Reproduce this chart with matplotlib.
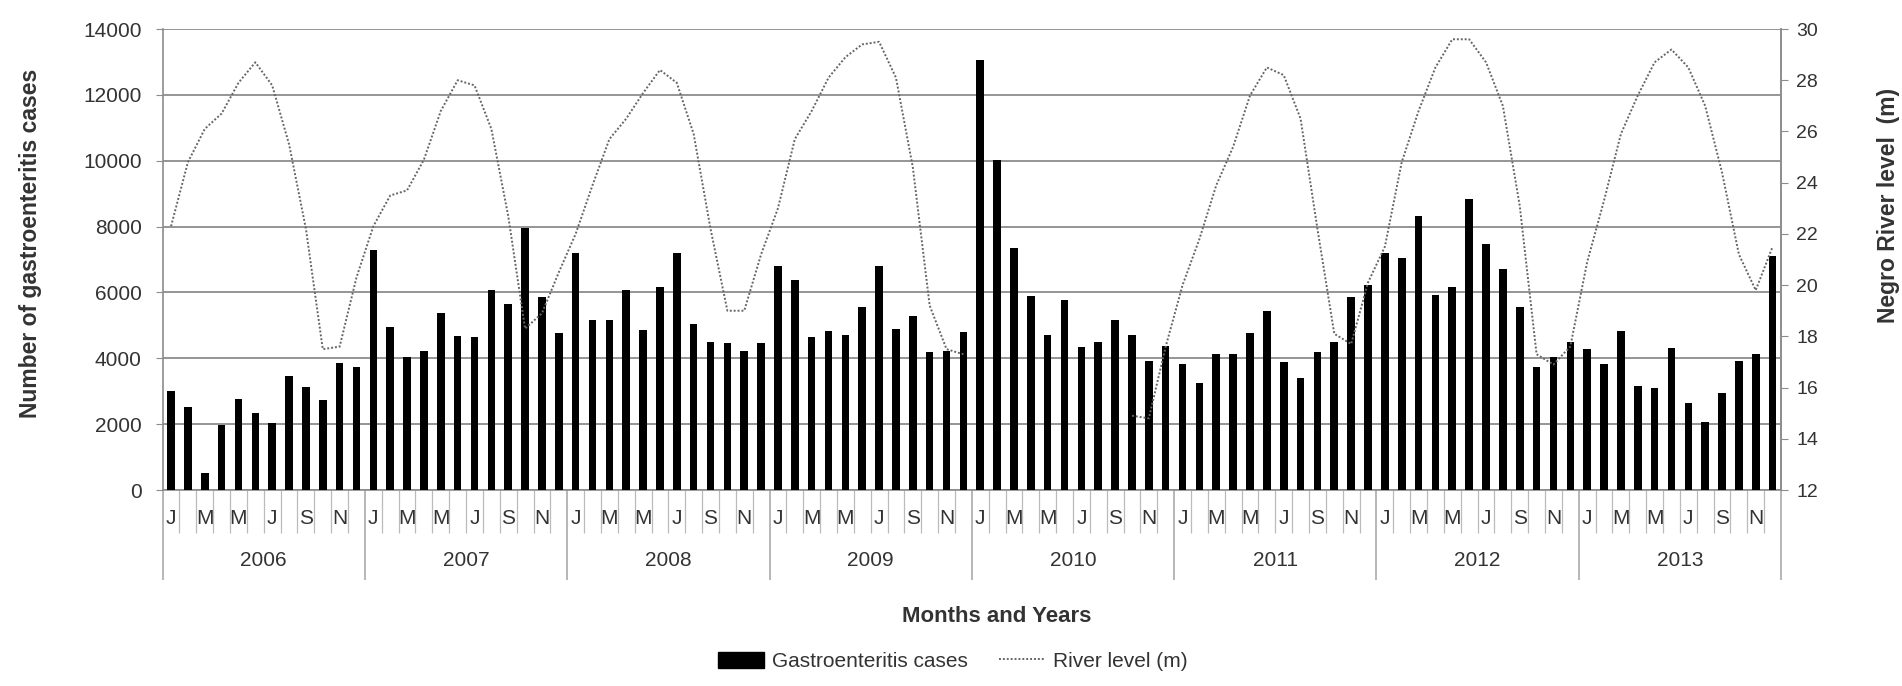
"""
Monthly gastroenteritis cases against the Negro River level, 2006-2013.
"""

import numpy as np
import matplotlib
import matplotlib.pyplot as plt
from matplotlib.lines import Line2D
from matplotlib.patches import Patch

matplotlib.use('Agg')

plt.rcParams['font.family'] = ['Liberation Sans', 'DejaVu Sans']

years = ['2006', '2007', '2008', '2009', '2010', '2011', '2012', '2013']
month_letters = ['J', '', 'M', '', 'M', '', 'J', '', 'S', '', 'N', '']

cases_2006 = [3000, 2510, 510, 1980, 2770, 2330, 2030, 3460, 3140, 2740, 3870, 3750]
cases_2007 = [7290, 4960, 4050, 4230, 5370, 4690, 4640, 6060, 5650, 7950, 5860, 4780]
cases_2008 = [7190, 5150, 5150, 6060, 4860, 6160, 7190, 5050, 4510, 4460, 4220, 4460]
cases_2009 = [6790, 6380, 4640, 4830, 4710, 5550, 6810, 4880, 5290, 4200, 4220, 4810]
cases_2010 = [13070, 10030, 7340, 5880, 4710, 5770, 4340, 4480, 5150, 4710, 3930, 4380]
cases_2011 = [3830, 3260, 4130, 4130, 4780, 5450, 3900, 3410, 4180, 4480, 5850, 6230]
cases_2012 = [7190, 7040, 8330, 5930, 6160, 8830, 7470, 6710, 5550, 3730, 4030, 4510]
cases_2013 = [4280, 3830, 4830, 3170, 3090, 4310, 2630, 2080, 2940, 3920, 4130, 7110]

nan = float('nan')
river_2006 = [22.3, 24.8, 26.1, 26.7, 27.9, 28.7, 27.8, 25.5, 22.2, 17.5, 17.6, 20.3]
river_2007 = [22.3, 23.5, 23.7, 24.9, 26.8, 28.0, 27.8, 26.1, 22.7, 18.3, 18.9, 20.5]
river_2008 = [22.0, 23.9, 25.7, 26.5, 27.5, 28.4, 27.9, 25.9, 22.2, 19.0, 19.0, 21.2]
river_2009 = [23.0, 25.7, 26.8, 28.1, 28.9, 29.4, 29.5, 28.1, 24.6, 19.2, 17.5, 17.3]
river_2010 = [nan, nan, nan, nan, nan, nan, nan, nan, nan, 14.9, 14.8, 17.6]
river_2011 = [20.0, 21.8, 23.9, 25.4, 27.4, 28.5, 28.2, 26.5, 22.2, 18.1, 17.7, 20.1]
river_2012 = [21.5, 24.8, 26.8, 28.5, 29.6, 29.6, 28.7, 27.0, 23.1, 17.3, 16.9, 17.6]
river_2013 = [20.9, 23.3, 25.9, 27.4, 28.7, 29.2, 28.5, 27.0, 24.4, 21.2, 19.8, 21.5]

cases = (cases_2006 + cases_2007 + cases_2008 + cases_2009
         + cases_2010 + cases_2011 + cases_2012 + cases_2013)
river = (river_2006 + river_2007 + river_2008 + river_2009
         + river_2010 + river_2011 + river_2012 + river_2013)

x = np.arange(len(cases))
grey = '#8c8c8c'
txt = '#333333'

fig, ax = plt.subplots(figsize=(19.02, 6.86), dpi=100)
fig.subplots_adjust(left=0.0855, right=0.9364, bottom=0.2857, top=0.9577)

# Case counts as bars on the left axis
ax.bar(x, cases, width=0.45, color='black', zorder=3)
ax.set_xlim(-0.5, len(cases) - 0.5)
ax.set_ylim(0, 14000)
ax.set_yticks(np.arange(0, 14001, 2000))
ax.yaxis.grid(True, color=grey, linewidth=1.3, zorder=0)
ax.set_axisbelow(True)
ax.tick_params(axis='y', labelsize=15, colors=grey, labelcolor=txt,
               length=5, pad=10)
for side in ['top']:
    ax.spines[side].set_visible(False)
for side in ['left', 'right', 'bottom']:
    ax.spines[side].set_color(grey)
    ax.spines[side].set_linewidth(1.2)

# Two-level month / year category axis
ax.set_xticks(np.arange(0, len(cases) + 1, 12) - 0.5)
ax.set_xticks(np.arange(0, len(cases) + 1) - 0.5, minor=True)
ax.set_xticklabels([])
ax.tick_params(axis='x', which='major', length=65, width=1.2, color='#aaaaaa')
ax.tick_params(axis='x', which='minor', length=31, width=0.9, color='#bbbbbb')

trans = ax.get_xaxis_transform()
for i in x:
    label = month_letters[i % 12]
    if label:
        ax.text(i, -0.061, label, transform=trans, ha='center', va='center',
                fontsize=15, color=txt)
for k, year in enumerate(years):
    ax.text(k * 12 + 5.5, -0.152, year, transform=trans, ha='center',
            va='center', fontsize=15, color=txt)

# River level on the right axis
ax2 = ax.twinx()
ax2.plot(x, river, color='#666666', linewidth=1.4, linestyle=(0, (1, 1)))
ax2.set_ylim(12, 30)
ax2.set_yticks(np.arange(12, 31, 2))
ax2.tick_params(axis='y', labelsize=14, colors=grey, labelcolor=txt,
                length=5, pad=6)
for side in ['top', 'left', 'bottom']:
    ax2.spines[side].set_visible(False)
ax2.spines['right'].set_color(grey)
ax2.spines['right'].set_linewidth(1.2)

fig.text(0.016, 0.645, 'Number of gastroenteritis cases', rotation=90,
         ha='center', va='center', fontsize=16.5, weight='bold', color=txt)
fig.text(0.993, 0.70, 'Negro River level  (m)', rotation=90,
         ha='center', va='center', fontsize=16.5, weight='bold', color=txt)
fig.text(0.524, 0.102, 'Months and Years', ha='center', va='center',
         fontsize=16, weight='bold', color=txt)

handles = [
    Patch(facecolor='black', edgecolor='black'),
    Line2D([0], [0], color='#666666', linewidth=1.4, linestyle=(0, (1, 1))),
]
fig.legend(handles, ['Gastroenteritis cases', 'River level (m)'],
           loc='center', bbox_to_anchor=(0.501, 0.036), ncol=2,
           frameon=False, fontsize=15, handlelength=2.2, handleheight=0.8,
           columnspacing=1.5, handletextpad=0.4, labelcolor=txt)

plt.savefig('out.png', dpi=100)
plt.close()
